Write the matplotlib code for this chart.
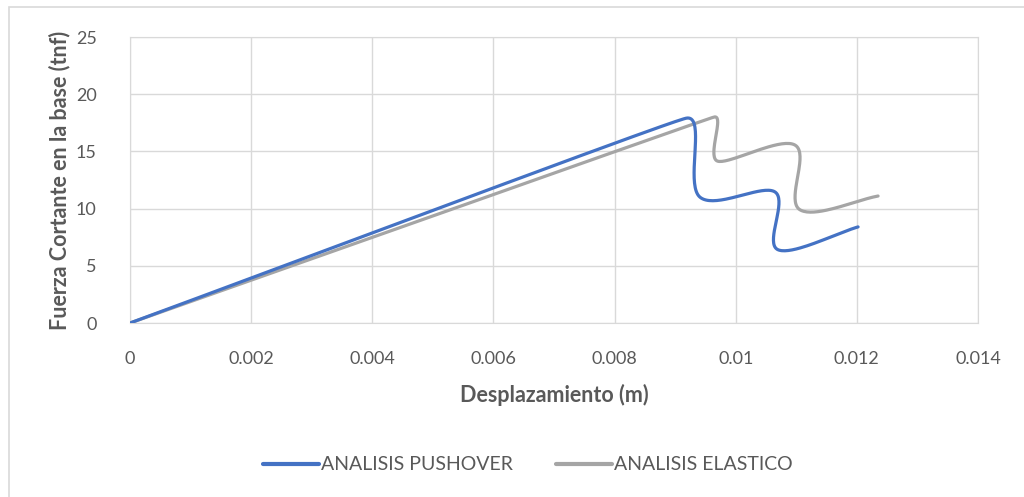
import numpy as np
import matplotlib
matplotlib.use("Agg")
import matplotlib.pyplot as plt
from matplotlib.patches import Rectangle

plt.rcParams['font.family'] = ['Lato', 'DejaVu Sans']

# Data
pushover_x = [0.0, 0.00918, 0.00941, 0.01065, 0.01070, 0.01202]
pushover_y = [0.0, 17.9, 11.0, 11.45, 6.4, 8.4]
elastico_x = [0.0, 0.00964, 0.00970, 0.01098, 0.01106, 0.01235]
elastico_y = [0.0, 18.0, 14.15, 15.55, 9.9, 11.1]
x_ticks = [0, 0.002, 0.004, 0.006, 0.008, 0.01, 0.012, 0.014]
x_tick_labels = ['0', '0.002', '0.004', '0.006', '0.008', '0.01', '0.012', '0.014']
y_ticks = [0, 5, 10, 15, 20, 25]

TXT = '#595959'
W, H = 1024, 497
fig = plt.figure(figsize=(W / 100, H / 100), dpi=100)
ax = fig.add_axes([130 / W, 1 - 323 / H, (978 - 130) / W, (323 - 37) / H])
ax.set_xlim(0, 0.014)
ax.set_ylim(0, 25)


def smooth(xs, ys, k=0.8, n=40):
    """Excel-like smoothed line: cubic Bezier through the points, computed in display space."""
    pts = ax.transData.transform(np.column_stack([xs, ys]))
    m = len(pts)
    seglen = [np.hypot(*(pts[i + 1] - pts[i])) for i in range(m - 1)]
    tang, tlen = [], []
    for i in range(m):
        a = pts[max(i - 1, 0)]
        b = pts[min(i + 1, m - 1)]
        d = b - a
        nrm = np.hypot(*d)
        tang.append(d / nrm if nrm > 0 else d)
        near = [seglen[j] for j in (i - 1, i) if 0 <= j < m - 1]
        tlen.append(min(near) / 3 * k)
    out = [pts[0]]
    t = np.linspace(0, 1, n)[1:, None]
    for i in range(m - 1):
        p0, p3 = pts[i], pts[i + 1]
        c1 = p0 + tang[i] * tlen[i]
        c2 = p3 - tang[i + 1] * tlen[i + 1]
        seg = ((1 - t) ** 3) * p0 + 3 * ((1 - t) ** 2) * t * c1 + 3 * (1 - t) * t ** 2 * c2 + t ** 3 * p3
        out.extend(seg)
    out = np.array(out)
    data = ax.transData.inverted().transform(out)
    return data[:, 0], data[:, 1]


bx, by = smooth(pushover_x, pushover_y)
gx, gy = smooth(elastico_x, elastico_y)
ax.plot(bx, by, color='#4472C4', lw=2.3, solid_capstyle='round', label='ANALISIS PUSHOVER', zorder=3)
ax.plot(gx, gy, color='#A5A5A5', lw=2.3, solid_capstyle='round', label='ANALISIS ELASTICO', zorder=2)

ax.set_xticks(x_ticks)
ax.set_xticklabels(x_tick_labels)
ax.set_yticks(y_ticks)
ax.grid(True, color='#D9D9D9', lw=1.0)
ax.set_axisbelow(True)
for s in ['top', 'right', 'left', 'bottom']:
    ax.spines[s].set_color('#D9D9D9')
ax.tick_params(length=0, labelsize=13, labelcolor=TXT)
ax.tick_params(axis='x', pad=20)
ax.tick_params(axis='y', pad=24)

ax.set_xlabel('Desplazamiento (m)', fontsize=15.5, fontweight='bold', color=TXT, labelpad=12)
ax.set_ylabel('Fuerza Cortante en la base (tnf)', fontsize=15.5, fontweight='bold', color=TXT, labelpad=4)

leg = fig.legend(loc='center', bbox_to_anchor=(528 / W, 1 - 465 / H), ncol=2, frameon=False,
                 fontsize=14, handlelength=2.9, handletextpad=0.1, columnspacing=2.2)
for t in leg.get_texts():
    t.set_color(TXT)
for h in leg.legend_handles:
    h.set_linewidth(3)

fig.patches.append(Rectangle((9 / W, -0.1), 1.2, 1 - 7 / H + 0.1, transform=fig.transFigure,
                             fill=False, edgecolor='#D9D9D9', lw=1.2))

fig.savefig('out.png', dpi=100)
